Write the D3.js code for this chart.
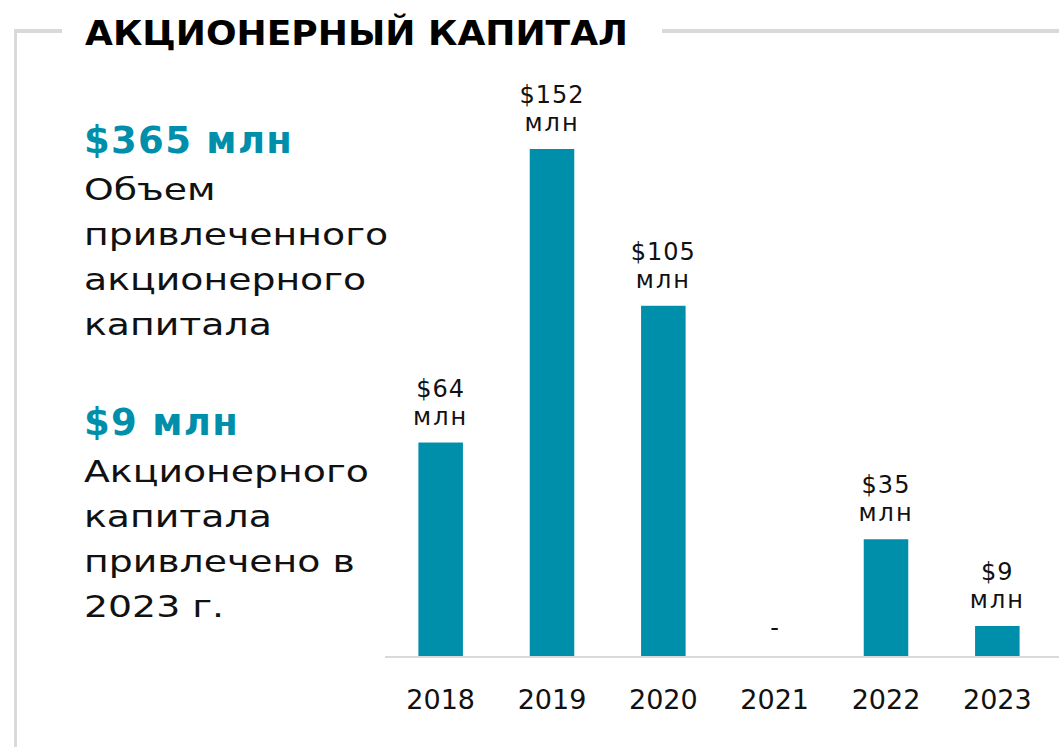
<!DOCTYPE html>
<html>
<head>
<meta charset="utf-8">
<script src="https://cdn.jsdelivr.net/npm/d3@7"></script>
<style>
  html, body { margin: 0; padding: 0; background: #fff; }
  svg { display: block; }
</style>
</head>
<body>
<div id="chart"></div>
<script>
// Data
const years = ["2018", "2019", "2020", "2021", "2022", "2023"];
const values = [64, 152, 105, 0, 35, 9];
const valueLabels = ["$64", "$152", "$105", "-", "$35", "$9"];

const titleText = "АКЦИОНЕРНЫЙ КАПИТАЛ";
const sideBlocks = [
  { head: "$365 млн", lines: ["Объем", "привлеченного", "акционерного", "капитала"] },
  { head: "$9 млн", lines: ["Акционерного", "капитала", "привлечено в", "2023 г."] },
];

const width = 1059, height = 747;
const teal = "#008fab";
const grey = "#d9d9d9";
const font = "'DejaVu Sans', sans-serif";

const svg = d3
  .select("#chart")
  .append("svg")
  .attr("width", width)
  .attr("height", height);

// Frame: top line broken by title, left vertical line
svg.append("line")
  .attr("x1", 14).attr("x2", 62).attr("y1", 31).attr("y2", 31)
  .attr("stroke", grey).attr("stroke-width", 4);
svg.append("line")
  .attr("x1", 662).attr("x2", width).attr("y1", 31).attr("y2", 31)
  .attr("stroke", grey).attr("stroke-width", 4);
svg.append("line")
  .attr("x1", 15.5).attr("x2", 15.5).attr("y1", 29).attr("y2", height)
  .attr("stroke", grey).attr("stroke-width", 3);

// Title
svg.append("text")
  .attr("x", 85)
  .attr("y", 45)
  .style("font-family", font)
  .style("font-weight", "bold")
  .style("font-size", "34px")
  .attr("textLength", 543)
  .attr("lengthAdjust", "spacingAndGlyphs")
  .text(titleText);

// Side text blocks (wide letterforms: stretch body lines horizontally)
const blockY = [153, 435];
sideBlocks.forEach((b, i) => {
  const g = svg.append("g").attr("transform", `translate(84, ${blockY[i]})`);
  g.append("text")
    .attr("y", 0)
    .style("font-family", font)
    .style("font-weight", "bold")
    .style("font-size", "37px")
    .style("letter-spacing", "1.3px")
    .style("fill", teal)
    .text(b.head);
  g.selectAll("text.line")
    .data(b.lines)
    .enter()
    .append("text")
    .attr("class", "line")
    .attr("transform", (d, j) => `translate(0, ${47 + j * 45}) scale(1.22, 1)`)
    .style("font-family", font)
    .style("font-size", "31px")
    .style("fill", "#111")
    .text((d) => d);
});

// Scales
const x = d3.scaleBand().domain(years).range([385, 1053]).paddingInner(0.6).paddingOuter(0.3);
const baseY = 656;
const y = d3.scaleLinear().domain([0, 152]).range([baseY, 149]);

// Bars
svg.selectAll("rect.bar")
  .data(years)
  .enter()
  .append("rect")
  .attr("class", "bar")
  .attr("x", (d) => x(d))
  .attr("y", (d, i) => y(values[i]))
  .attr("width", x.bandwidth())
  .attr("height", (d, i) => baseY - y(values[i]))
  .attr("fill", teal);

// Baseline axis
const axis = svg.append("g")
  .attr("transform", `translate(0, ${baseY + 1})`)
  .call(d3.axisBottom(x).tickSize(0).tickPadding(0));
axis.select(".domain").attr("stroke", grey).attr("stroke-width", 2).attr("d", "M385,0H1059");
axis.selectAll("text")
  .attr("dy", null)
  .attr("y", 52)
  .style("font-family", font)
  .style("font-size", "27px")
  .style("fill", "#111");

// Value labels
const labels = svg.selectAll("g.vlabel")
  .data(years)
  .enter()
  .append("g")
  .attr("class", "vlabel")
  .attr("transform", (d) => `translate(${x(d) + x.bandwidth() / 2}, 0)`);

labels.each(function (d, i) {
  const g = d3.select(this);
  const top = y(values[i]);
  if (values[i] === 0) {
    g.append("text")
      .attr("y", top - 20)
      .attr("text-anchor", "middle")
      .style("font-family", font)
      .style("font-size", "24px")
      .style("fill", "#111")
      .text(valueLabels[i]);
    return;
  }
  g.append("text")
    .attr("y", top - 46)
    .attr("text-anchor", "middle")
    .style("font-family", font)
    .style("font-size", "24px")
    .style("letter-spacing", "1px")
    .style("fill", "#111")
    .text(valueLabels[i]);
  g.append("text")
    .attr("y", top - 18)
    .attr("text-anchor", "middle")
    .style("font-family", font)
    .style("font-size", "24px")
    .style("letter-spacing", "2px")
    .style("fill", "#111")
    .text("млн");
});
</script>
</body>
</html>
